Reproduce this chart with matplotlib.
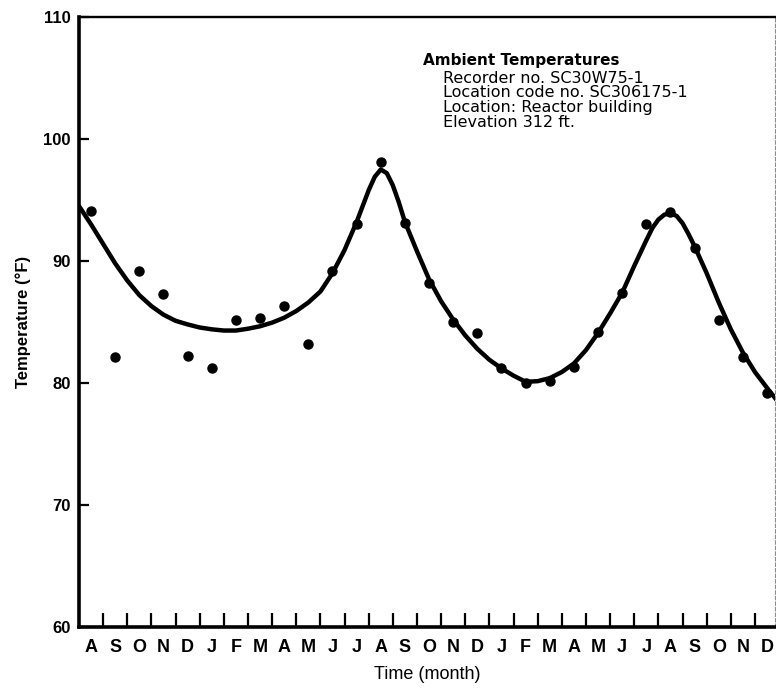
import numpy as np
import matplotlib.pyplot as plt

plt.rcParams['font.family'] = ['Liberation Sans', 'DejaVu Sans']

# month initials, Aug through Dec two years later
months = ['A', 'S', 'O', 'N', 'D', 'J', 'F', 'M', 'A', 'M', 'J', 'J', 'A', 'S', 'O',
          'N', 'D', 'J', 'F', 'M', 'A', 'M', 'J', 'J', 'A', 'S', 'O', 'N', 'D']

# monthly recorded temperatures (deg F)
readings = [94.1, 82.1, 89.2, 87.3, 82.2, 81.2, 85.2, 85.3, 86.3, 83.2,
            89.2, 93.0, 98.1, 93.1, 88.2, 85.0, 84.1, 81.2, 80.0, 80.2,
            81.3, 84.2, 87.4, 93.0, 94.0, 91.1, 85.2, 82.1, 79.2]

# smoothed trend line (month index, deg F)
fit_month = [-0.5, 0.0, 0.5, 1.0, 1.5, 2.0, 2.5, 3.0, 3.5, 4.0, 4.5, 5.0, 5.5,
             6.0, 6.5, 7.0, 7.5, 8.0, 8.5, 9.0, 9.5, 10.0, 10.5, 11.0, 11.25,
             11.5, 11.75, 12.0, 12.25, 12.5, 12.75, 13.0, 13.5, 14.0, 14.5,
             15.0, 15.5, 16.0, 16.5, 17.0, 17.5, 18.0, 18.5, 19.0, 19.5, 20.0,
             20.5, 21.0, 21.5, 22.0, 22.5, 23.0, 23.25, 23.5, 23.75, 24.0,
             24.25, 24.5, 24.75, 25.0, 25.5, 26.0, 26.5, 27.0, 27.5, 28.0, 28.4]
fit_temp = [94.5, 93.0, 91.4, 89.8, 88.4, 87.2, 86.3, 85.6, 85.1, 84.8, 84.55, 84.4, 84.3,
            84.3, 84.45, 84.65, 84.95, 85.35, 85.9, 86.6, 87.5, 89.0, 90.9, 93.2, 94.5,
            95.8, 96.9, 97.5, 97.2, 96.2, 94.8, 93.2, 90.8, 88.5, 86.7,
            85.2, 83.9, 82.8, 81.9, 81.2, 80.6, 80.1, 80.15, 80.4, 80.9, 81.6,
            82.7, 84.1, 85.7, 87.4, 89.6, 91.7, 92.7, 93.4, 93.8, 93.9,
            93.7, 93.1, 92.2, 91.2, 89.0, 86.6, 84.4, 82.5, 80.9, 79.6, 78.6]

info_title = 'Ambient Temperatures'
info_lines = ['Recorder no. SC30W75-1',
              'Location code no. SC306175-1',
              'Location: Reactor building',
              'Elevation 312 ft.']

fig = plt.figure(figsize=(7.76, 6.89), dpi=100)
ax = fig.add_axes([79 / 776, 62 / 689, 696 / 776, 610 / 689])

x = np.arange(len(months))
ax.plot(fit_month, fit_temp, color='black', lw=3.2, solid_capstyle='round',
        solid_joinstyle='round', zorder=3)
ax.plot(x, readings, 'o', color='black', ms=6.5, zorder=4)

ax.set_xlim(-0.5, 28.33)
ax.set_ylim(60, 110)

ax.set_xticks(x)
ax.set_xticklabels(months, fontsize=13, fontweight='bold')
ax.set_xticks(x[:-1] + 0.5, minor=True)
ax.tick_params(axis='x', which='major', length=0, pad=9)
ax.tick_params(axis='x', which='minor', direction='in', length=10, width=1.6)

ax.set_yticks([60, 70, 80, 90, 100, 110])
ax.tick_params(axis='y', direction='in', length=7, width=1.6, pad=6, labelsize=12)
for lab in ax.get_yticklabels():
    lab.set_fontweight('bold')

for side in ['left', 'bottom']:
    ax.spines[side].set_linewidth(2.6)
ax.spines['top'].set_linewidth(1.7)
ax.spines['right'].set_linewidth(0.8)
ax.spines['right'].set_color('0.55')
ax.spines['right'].set_linestyle((0, (3, 2)))

ax.set_xlabel('Time (month)', fontsize=13, labelpad=7)
ax.set_ylabel('Temperature (°F)', fontsize=12, fontweight='bold', labelpad=9)

# recorder details, top right
ax.text(0.494, 0.928, info_title, transform=ax.transAxes, family='DejaVu Sans',
        fontsize=11, fontweight='bold', va='center', ha='left')
ax.text(0.523, 0.912, '\n'.join(info_lines), transform=ax.transAxes,
        family='DejaVu Sans', fontsize=11.5, va='top', ha='left', linespacing=0.98)

fig.savefig('out.png', dpi=100)
